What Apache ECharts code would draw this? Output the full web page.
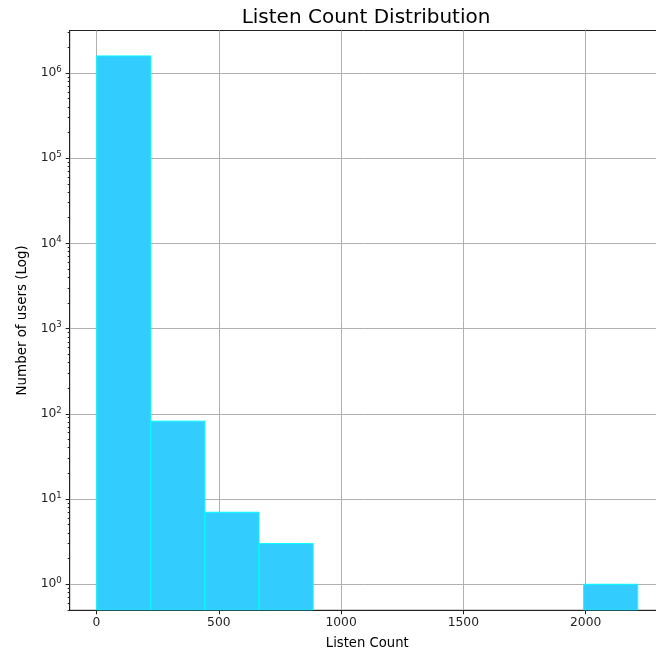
<!DOCTYPE html>
<html>
<head>
<meta charset="utf-8">
<script src="https://cdn.jsdelivr.net/npm/echarts@6/dist/echarts.min.js"></script>
<style>
html,body{margin:0;padding:0;background:#fff;}
#chart{width:656px;height:658px;}
</style>
</head>
<body>
<div id="chart"></div>
<script>
// Histogram bins (Listen Count) and counts (Number of users)
const binEdges = [1, 222.2, 443.4, 664.6, 885.8, 1107, 1328.2, 1549.4, 1770.6, 1991.8, 2213];
const binCounts = [1580000, 82, 7, 3, 0, 0, 0, 0, 0, 1];
const xTickValues = [0, 500, 1000, 1500, 2000];
const yTickValues = [1, 10, 100, 1000, 10000, 100000, 1000000];

const FONT = 'DejaVu Sans';
const barData = [];
for (let i = 0; i < binCounts.length; i++) {
  if (binCounts[i] > 0) barData.push([binEdges[i], binEdges[i + 1], binCounts[i]]);
}

const chart = echarts.init(document.getElementById('chart'), null, {renderer: 'canvas'});
const yMin = 0.495, yMax = 3.14e6;
chart.setOption({
  animation: false,
  backgroundColor: '#ffffff',
  title: {
    text: 'Listen Count Distribution',
    left: 361, textAlign: 'center', top: 3,
    textStyle: {fontFamily: FONT, fontSize: 20, fontWeight: 'normal', color: '#000'}
  },
  grid: {
    left: 69.7, right: -8.8, top: 30.5, bottom: 47.7,
    containLabel: false, outerBoundsMode: 'none',
    show: true, borderColor: '#222', borderWidth: 1, backgroundColor: 'transparent'
  },
  xAxis: {
    type: 'value', min: -109.6, max: 2323.6,
    name: 'Listen Count', nameLocation: 'middle', nameGap: 27,
    nameTextStyle: {fontFamily: FONT, fontSize: 13.2, color: '#000'},
    axisLine: {show: true, onZero: false, lineStyle: {color: '#222', width: 1}},
    axisTick: {show: true, length: 4, customValues: xTickValues, lineStyle: {color: '#222'}},
    axisLabel: {
      customValues: xTickValues, margin: 7, fontFamily: FONT, fontSize: 12.3, color: '#222',
      formatter: function (v) { return String(v); }
    },
    splitLine: {show: true, lineStyle: {color: '#b0b0b0', width: 1}}
  },
  yAxis: {
    type: 'log', min: yMin, max: yMax, logBase: 10,
    name: 'Number of users (Log)', nameLocation: 'middle', nameGap: 41,
    nameTextStyle: {fontFamily: FONT, fontSize: 13.4, color: '#000'},
    axisLine: {show: true, onZero: false, lineStyle: {color: '#222', width: 1}},
    axisTick: {show: true, length: 4, customValues: yTickValues, lineStyle: {color: '#222'}},
    minorTick: {show: true, splitNumber: 9, length: 2, lineStyle: {color: '#222'}},
    axisLabel: {
      customValues: yTickValues, margin: 8, fontFamily: FONT, fontSize: 12.3, color: '#222',
      formatter: function (v) {
        const e = Math.round(Math.log10(v));
        return '10{sup|' + e + '}';
      },
      rich: {
        sup: {fontFamily: FONT, fontSize: 8.5, color: '#222', padding: [0, 0, 7, 0]}
      }
    },
    splitLine: {show: true, lineStyle: {color: '#b0b0b0', width: 1}}
  },
  series: [{
    type: 'custom',
    data: barData,
    clip: true,
    renderItem: function (params, api) {
      const x0 = api.value(0), x1 = api.value(1), c = api.value(2);
      const p0 = api.coord([x0, c]);
      const p1 = api.coord([x1, yMin]);
      const rect = echarts.graphic.clipRectByRect({
        x: p0[0], y: p0[1], width: p1[0] - p0[0], height: p1[1] - p0[1]
      }, {
        x: params.coordSys.x, y: params.coordSys.y,
        width: params.coordSys.width, height: params.coordSys.height
      });
      if (!rect) return;
      return {
        type: 'rect',
        shape: rect,
        style: {fill: '#33ccff', stroke: '#00ffff', lineWidth: 1}
      };
    }
  }]
});
</script>
</body>
</html>
